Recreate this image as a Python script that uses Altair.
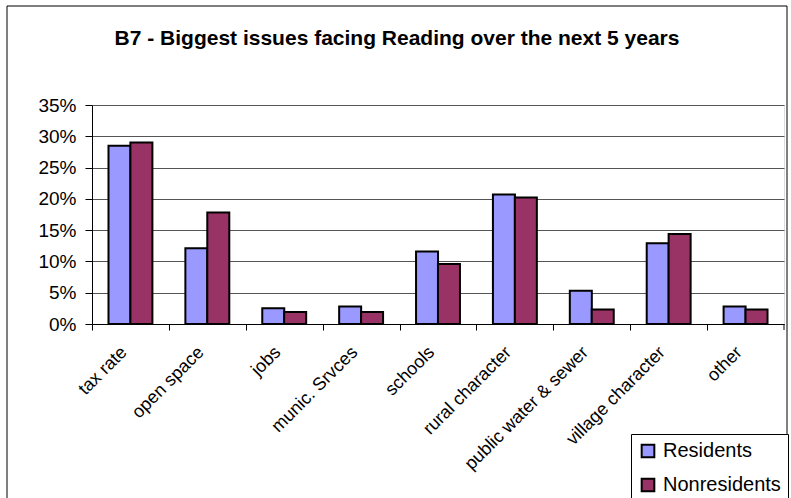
import altair as alt
import pandas as pd

title_text = "B7 - Biggest issues facing Reading over the next 5 years"
categories = ["tax rate", "open space", "jobs", "munic. Srvces", "schools",
              "rural character", "public water & sewer", "village character", "other"]
residents = [0.285, 0.121, 0.025, 0.028, 0.116, 0.207, 0.053, 0.129, 0.028]
nonresidents = [0.290, 0.178, 0.019, 0.019, 0.096, 0.202, 0.023, 0.144, 0.023]
series = ["Residents", "Nonresidents"]
colors = ["#9999FF", "#993366"]
y_ticks = [0, 0.05, 0.10, 0.15, 0.20, 0.25, 0.30, 0.35]

rows = []
for c, r, n in zip(categories, residents, nonresidents):
    rows.append({"issue": c, "group": series[0], "value": r})
    rows.append({"issue": c, "group": series[1], "value": n})
df = pd.DataFrame(rows)

W, H = 692, 219
step = W / 9.0
FONT = "Liberation Sans"

bars = alt.Chart(df).mark_bar(stroke="black", strokeWidth=2, size=22).encode(
    x=alt.X("issue:N", sort=categories, title=None,
            scale=alt.Scale(paddingInner=0.43, paddingOuter=0.215),
            axis=alt.Axis(labelAngle=-45, labelAlign="right", labelBaseline="top",
                          labelFontSize=18, labelFont=FONT, labelColor="black",
                          labelPadding=13, tickOffset=-step / 2, labelOffset=step / 2 - 13,
                          domainColor="black", tickColor="black", tickSize=6,
                          labelLimit=300, grid=False)),
    xOffset=alt.XOffset("group:N", sort=series, scale=alt.Scale(paddingInner=0, paddingOuter=0)),
    y=alt.Y("value:Q", title=None,
            scale=alt.Scale(domain=[0, 0.35], nice=False),
            axis=alt.Axis(values=y_ticks, format=".0%", labelFontSize=19, labelFont=FONT,
                          labelColor="black", domainColor="black", tickColor="black",
                          tickSize=7, labelPadding=9, grid=True, gridColor="#555555",
                          gridWidth=1)),
    color=alt.Color("group:N", sort=series, scale=alt.Scale(domain=series, range=colors),
                    legend=alt.Legend(title=None, orient="none", legendX=539, legendY=329,
                                      symbolType="square", symbolSize=160,
                                      symbolStrokeColor="black", symbolStrokeWidth=2,
                                      labelFontSize=20, labelFont=FONT, labelColor="black",
                                      strokeColor="black", fillColor="white",
                                      padding=7, rowPadding=12, labelOffset=5)),
)

last_tick = alt.Chart(pd.DataFrame({"a": [0]})).mark_rule(color="black", strokeWidth=1).encode(
    x=alt.value(W), y=alt.value(H), y2=alt.value(H + 6))

title = alt.Chart(pd.DataFrame({"t": [title_text]})).mark_text(
    font=FONT, fontSize=21, fontWeight="bold", color="black", align="center",
    baseline="alphabetic"
).encode(text="t:N", x=alt.value(305), y=alt.value(-60))

frame = alt.Chart(pd.DataFrame({"a": [0]})).mark_rect(
    fill=None, stroke="black", strokeWidth=1, clip=False
).encode(x=alt.value(-85), x2=alt.value(695), y=alt.value(-99), y2=alt.value(400))

chart = alt.layer(bars, last_tick, title, frame).properties(
    width=W, height=H,
    autosize=alt.AutoSizeParams(type="none"),
    padding={"left": 92, "top": 105, "right": 7, "bottom": 174},
).configure_view(stroke="#808080", strokeWidth=1).configure(background="white")

chart.save("out.html", embed_options={"renderer": "svg", "actions": False})
